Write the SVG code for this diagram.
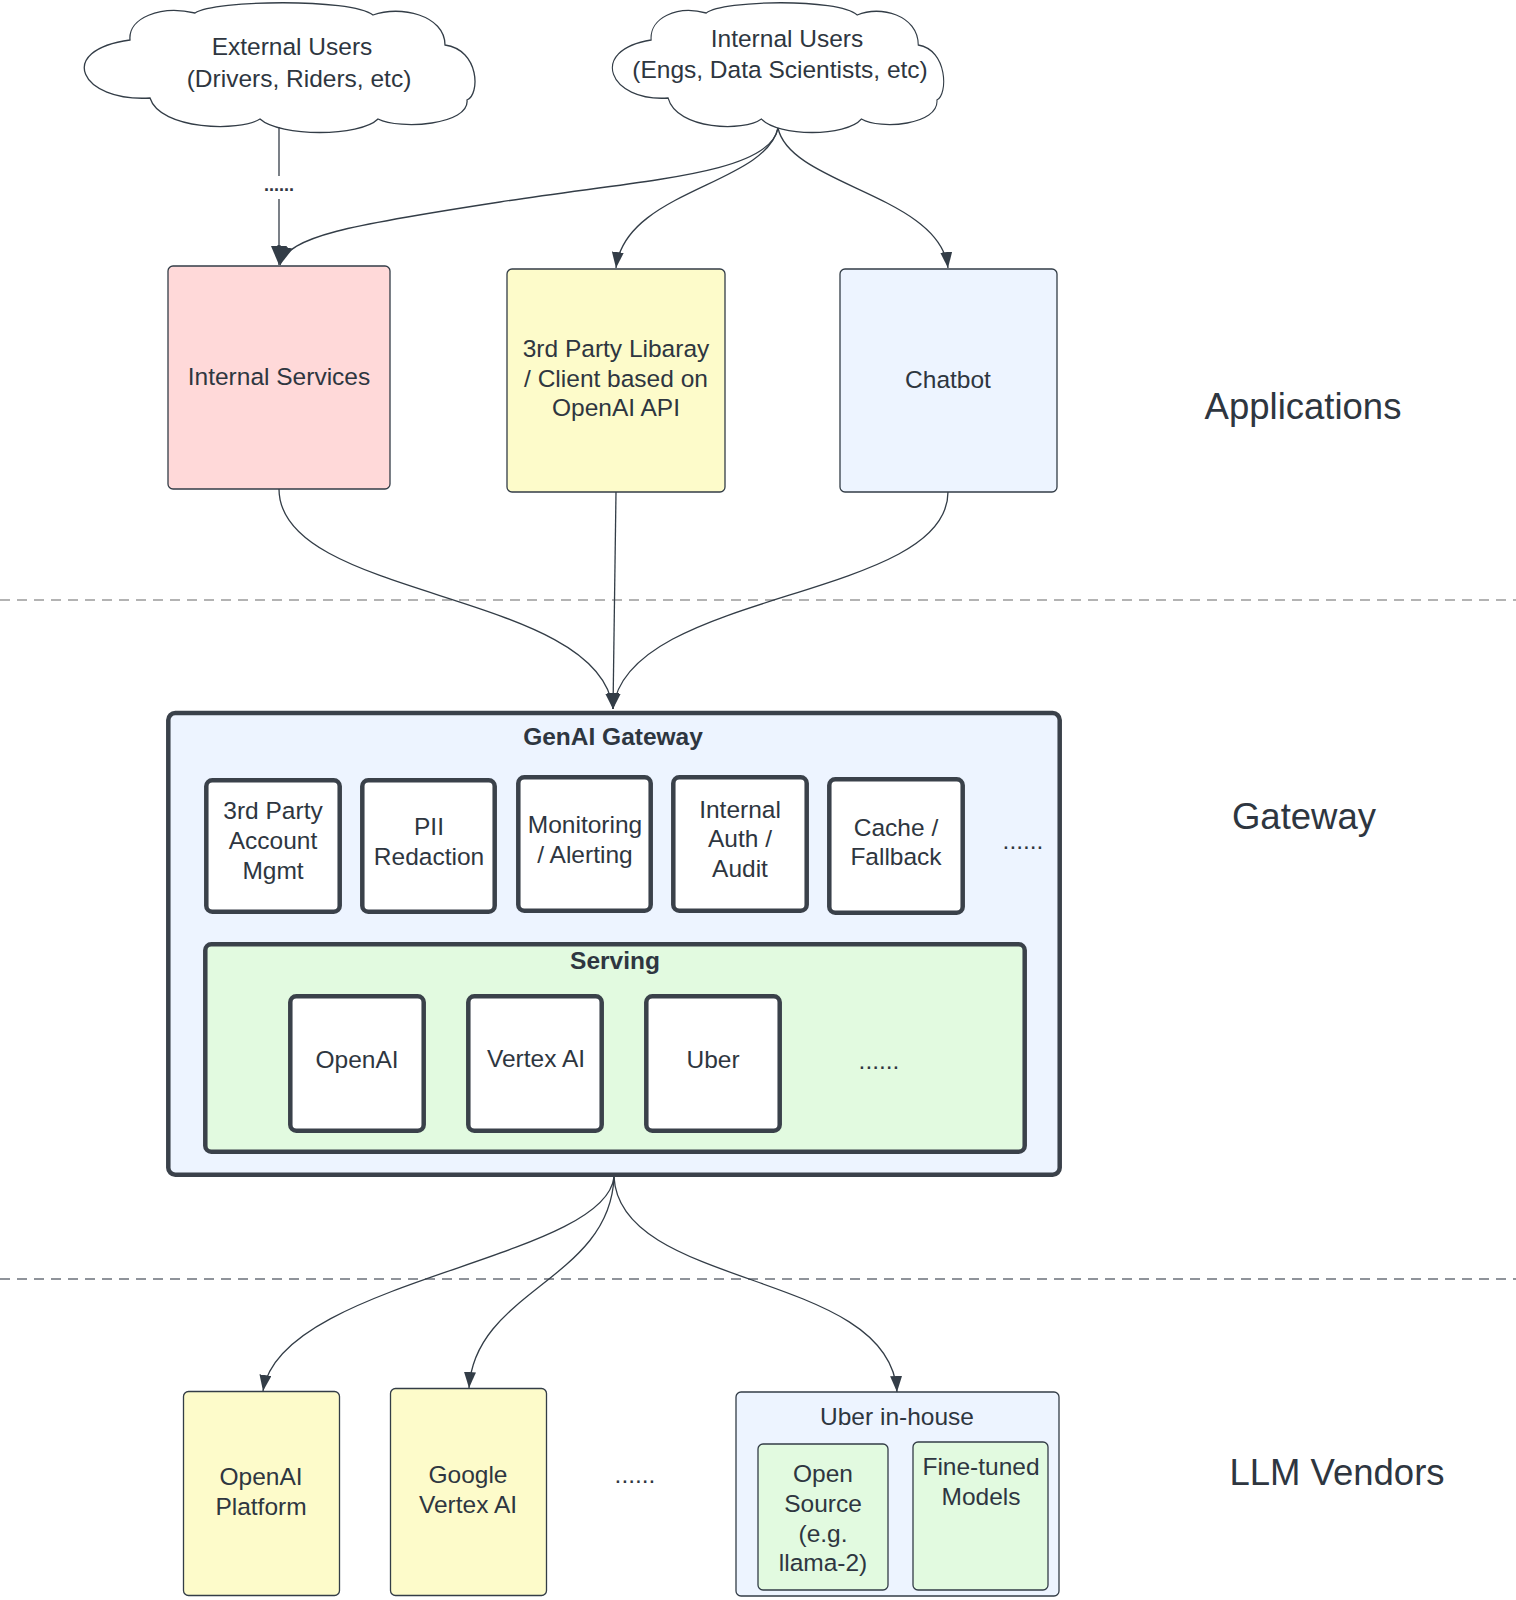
<svg xmlns="http://www.w3.org/2000/svg" width="1516" height="1600" viewBox="0 0 1516 1600">
<defs>
<style>
text{font-family:"Liberation Sans",Arial,sans-serif;fill:#2e3640;text-anchor:middle;}
.t24{font-size:24.5px;}
.b24{font-size:24.5px;font-weight:bold;}
.lbl{font-size:36.5px;}
.thin{stroke:#333d47;stroke-width:1.3;}
.thick{stroke:#3a414a;stroke-width:4.5;}
.pink{fill:#ffd9d9;}
.yel{fill:#fdfbca;}
.blue{fill:#edf4ff;}
.green{fill:#e2fae0;}
.white{fill:#ffffff;}
.conn{fill:none;stroke:#333d47;stroke-width:1.3;}
.dash{fill:none;stroke-width:1.6;stroke-dasharray:10 7;}
</style>
<marker id="arrSm" markerUnits="userSpaceOnUse" markerWidth="16" markerHeight="12" viewBox="0 0 16 12" refX="16" refY="6" orient="auto">
<path d="M0,0 L16,6 L0,12 Z" fill="#333d47"/>
</marker>
<marker id="arrLg" markerUnits="userSpaceOnUse" markerWidth="19" markerHeight="16" viewBox="0 0 19 16" refX="19" refY="8" orient="auto">
<path d="M0,0 L19,8 L0,16 Z" fill="#333d47"/>
</marker>
<path id="cloud" d="M 150 98 C 80 102, 55 50, 130 40 C 128 18, 160 5, 195 13 C 215 0, 350 -2, 373 15 C 400 5, 445 15, 445 45 C 480 50, 480 95, 467 100 C 470 125, 400 130, 378 119 C 360 137, 280 137, 260 119 C 240 132, 160 130, 150 98 Z"/>
</defs>

<rect x="0" y="0" width="1516" height="1600" fill="#ffffff"/>

<g id="separators">
<line class="dash" x1="0" y1="600" x2="1516" y2="600" stroke="#9a9a9a"/>
<line class="dash" x1="0" y1="1279" x2="1516" y2="1279" stroke="#6b7079"/>
</g>

<g id="layer-labels">
<text class="lbl" x="1303" y="419">Applications</text>
<text class="lbl" x="1304" y="829">Gateway</text>
<text class="lbl" x="1337" y="1485">LLM Vendors</text>
</g>

<g id="external-users">
<use href="#cloud" fill="#ffffff" stroke="#333d47" stroke-width="1.3"/>
<text class="t24" x="292" y="55">External Users</text>
<text class="t24" x="299" y="87">(Drivers, Riders, etc)</text>
</g>

<g id="internal-users">
<use href="#cloud" transform="translate(540.9,0) scale(0.848,1)" fill="#ffffff" stroke="#333d47" stroke-width="1.3" vector-effect="non-scaling-stroke"/>
<text class="t24" x="787" y="47">Internal Users</text>
<text class="t24" x="780" y="78">(Engs, Data Scientists, etc)</text>
</g>

<g id="internal-services">
<rect class="pink thin" x="168" y="266" width="222" height="223" rx="5"/>
<text class="t24" x="279" y="385">Internal Services</text>
</g>

<g id="third-party-library">
<rect class="yel thin" x="507" y="269" width="218" height="223" rx="5"/>
<text class="t24" x="616" y="357">3rd Party Libaray</text>
<text class="t24" x="616" y="387">/ Client based on</text>
<text class="t24" x="616" y="416">OpenAI API</text>
</g>

<g id="chatbot">
<rect class="blue thin" x="840" y="269" width="217" height="223" rx="5"/>
<text class="t24" x="948" y="388">Chatbot</text>
</g>

<g id="genai-gateway">
<rect class="blue thick" x="168.3" y="713" width="891.4" height="461.7" rx="7"/>
<text class="b24" x="613" y="745">GenAI Gateway</text>
<text class="t24" x="1023" y="849">......</text>
</g>

<g id="account-mgmt">
<rect class="white thick" x="206.3" y="780.3" width="133.4" height="131.4" rx="6"/>
<text class="t24" x="273" y="819">3rd Party</text>
<text class="t24" x="273" y="849">Account</text>
<text class="t24" x="273" y="879">Mgmt</text>
</g>

<g id="pii-redaction">
<rect class="white thick" x="362.3" y="780.3" width="132.4" height="131.4" rx="6"/>
<text class="t24" x="429" y="835">PII</text>
<text class="t24" x="429" y="865">Redaction</text>
</g>

<g id="monitoring">
<rect class="white thick" x="518.3" y="777.3" width="132.4" height="133.4" rx="6"/>
<text class="t24" x="585" y="833">Monitoring</text>
<text class="t24" x="585" y="863">/ Alerting</text>
</g>

<g id="internal-auth">
<rect class="white thick" x="673.3" y="777.3" width="133.4" height="133.4" rx="6"/>
<text class="t24" x="740" y="818">Internal</text>
<text class="t24" x="740" y="847">Auth /</text>
<text class="t24" x="740" y="877">Audit</text>
</g>

<g id="cache-fallback">
<rect class="white thick" x="829.3" y="779.3" width="133.4" height="133.4" rx="6"/>
<text class="t24" x="896" y="836">Cache /</text>
<text class="t24" x="896" y="865">Fallback</text>
</g>

<g id="serving">
<rect class="green thick" x="205.3" y="944.3" width="819.4" height="207.4" rx="6"/>
<text class="b24" x="615" y="969">Serving</text>
<text class="t24" x="879" y="1069">......</text>
</g>

<g id="serving-openai">
<rect class="white thick" x="290.3" y="996.3" width="133.4" height="134.4" rx="6"/>
<text class="t24" x="357" y="1068">OpenAI</text>
</g>

<g id="serving-vertex">
<rect class="white thick" x="468.3" y="996.3" width="133.4" height="134.4" rx="6"/>
<text class="t24" x="536" y="1067">Vertex AI</text>
</g>

<g id="serving-uber">
<rect class="white thick" x="646.3" y="996.3" width="133.4" height="134.4" rx="6"/>
<text class="t24" x="713" y="1068">Uber</text>
</g>

<g id="openai-platform">
<rect class="yel thin" x="183.5" y="1391.5" width="156" height="204" rx="5"/>
<text class="t24" x="261" y="1485">OpenAI</text>
<text class="t24" x="261" y="1515">Platform</text>
</g>

<g id="google-vertex">
<rect class="yel thin" x="390.5" y="1388.5" width="156" height="207" rx="5"/>
<text class="t24" x="468" y="1483">Google</text>
<text class="t24" x="468" y="1513">Vertex AI</text>
</g>

<g id="vendor-more">
<text class="t24" x="635" y="1483">......</text>
</g>

<g id="uber-inhouse">
<rect class="blue thin" x="736" y="1392" width="323" height="204" rx="5"/>
<text class="t24" x="897" y="1425">Uber in-house</text>
</g>

<g id="open-source">
<rect class="green thin" x="758" y="1444" width="130" height="146" rx="5"/>
<text class="t24" x="823" y="1482">Open</text>
<text class="t24" x="823" y="1512">Source</text>
<text class="t24" x="823" y="1542">(e.g.</text>
<text class="t24" x="823" y="1571">llama-2)</text>
</g>

<g id="fine-tuned">
<rect class="green thin" x="913" y="1442" width="135" height="148" rx="5"/>
<text class="t24" x="981" y="1475">Fine-tuned</text>
<text class="t24" x="981" y="1505">Models</text>
</g>

<g id="connectors">
<line class="conn" x1="279" y1="127" x2="279" y2="176"/>
<text x="279" y="191" style="font-size:18px;font-weight:bold;">......</text>
<path class="conn" d="M 279 199 L 279 265" marker-end="url(#arrLg)"/>
<path class="conn" d="M 778 128 C 770 175, 640 180, 500 202 C 350 225, 288 236, 280 265" marker-end="url(#arrLg)"/>
<path class="conn" d="M 778 128 C 765 185, 625 190, 616 268" marker-end="url(#arrSm)"/>
<path class="conn" d="M 778 128 C 790 185, 940 195, 948 268" marker-end="url(#arrSm)"/>
<path class="conn" d="M 279 489 C 279 600, 600 590, 613 709" marker-end="url(#arrSm)"/>
<path class="conn" d="M 616 492 L 613 709" marker-end="url(#arrSm)"/>
<path class="conn" d="M 948 492 C 948 600, 626 590, 613 709" marker-end="url(#arrSm)"/>
<path class="conn" d="M 614 1177 C 605 1260, 280 1280, 263 1391" marker-end="url(#arrSm)"/>
<path class="conn" d="M 614 1177 C 610 1280, 475 1290, 469 1388" marker-end="url(#arrSm)"/>
<path class="conn" d="M 614 1177 C 620 1290, 890 1270, 897 1392" marker-end="url(#arrSm)"/>
</g>
</svg>
